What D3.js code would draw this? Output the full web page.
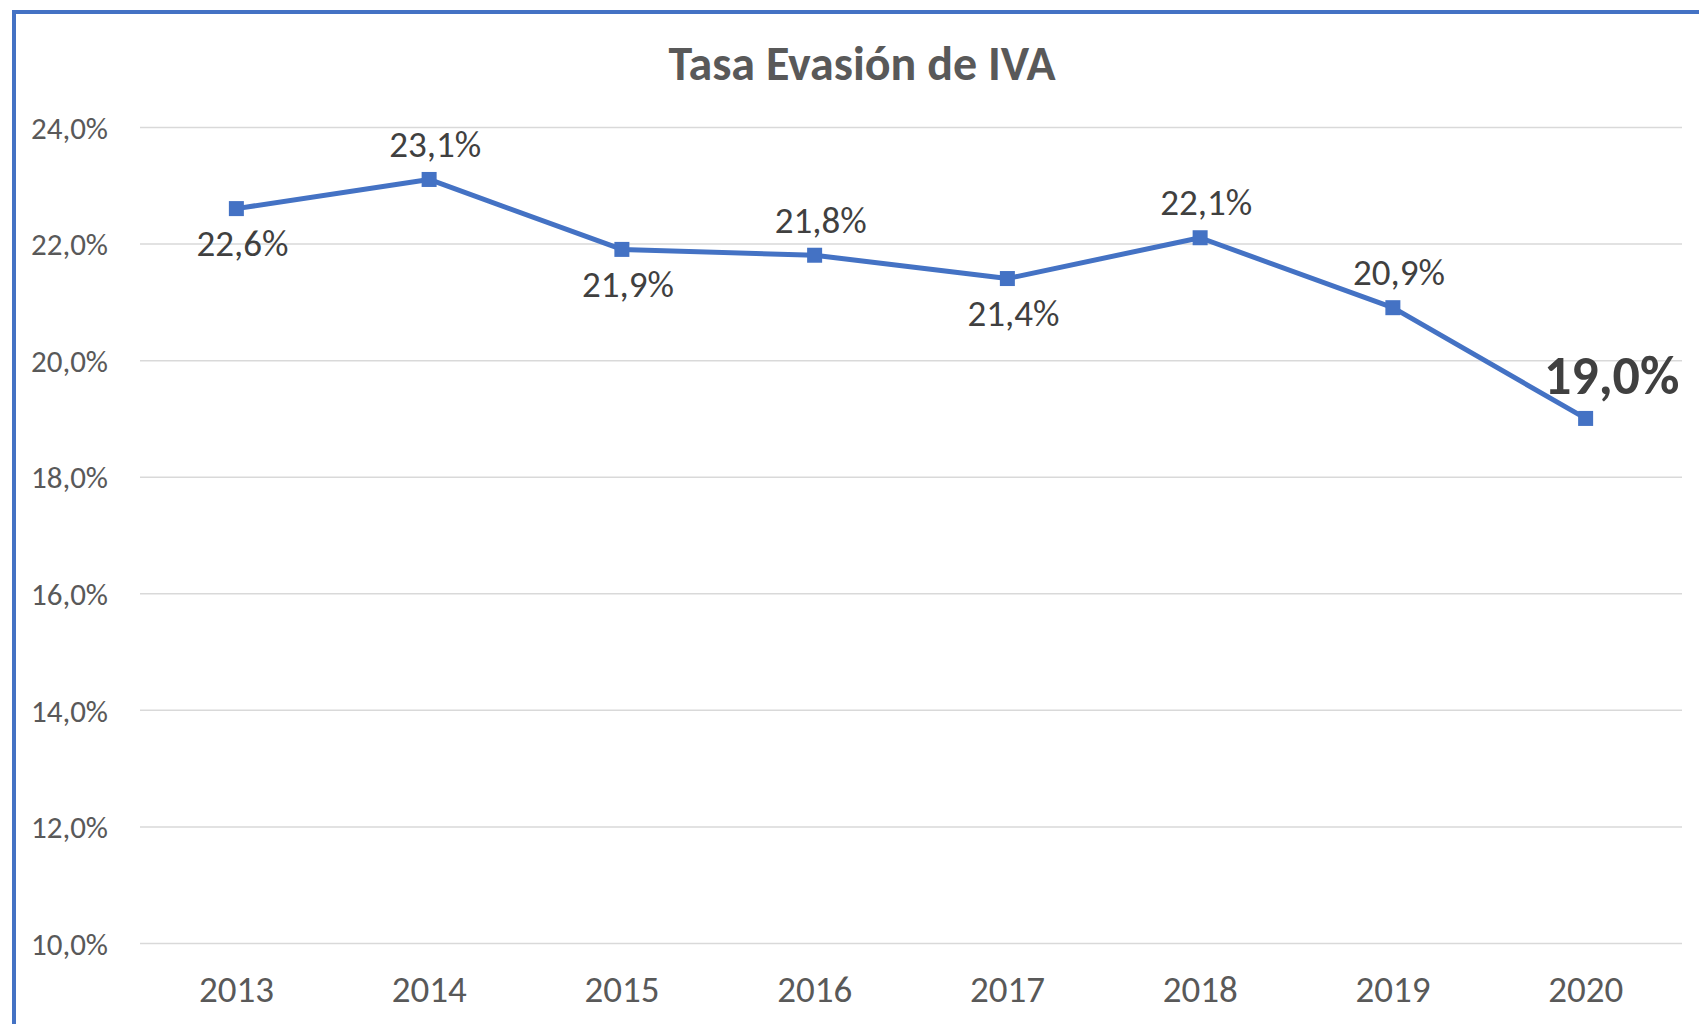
<!DOCTYPE html>
<meta charset="utf-8">
<style>
  body { margin: 0; background: #fff; }
  svg text { font-family: Carlito, Calibri, Lato, sans-serif; }
</style>
<body>
<svg width="1699" height="1024"></svg>

<script src="https://cdn.jsdelivr.net/npm/d3@7"></script>
<script>

// data
var years  = ["2013", "2014", "2015", "2016", "2017", "2018", "2019", "2020"];
var rates  = [22.6, 23.1, 21.9, 21.8, 21.4, 22.1, 20.9, 19.0];
var labelSide = ["below", "above", "below", "above", "below", "above", "above", "right"];
var yTicks = [10, 12, 14, 16, 18, 20, 22, 24];

var svg = d3.select("svg"),
    margin = {top: 127, right: 17, bottom: 81, left: 140},
    width  = +svg.attr("width") - margin.left - margin.right,
    height = +svg.attr("height") - margin.top - margin.bottom;

var blue = "#4472C4";
var fmt = function(v) { return d3.format(".1f")(v).replace(".", ",") + "%"; };

// chart frame (only top & left edges visible)
svg.append("rect")
    .attr("x", 14).attr("y", 12)
    .attr("width", 1800).attr("height", 1100)
    .attr("fill", "none")
    .attr("stroke", blue)
    .attr("stroke-width", 4);

// title
svg.append("text")
    .attr("x", 862).attr("y", 80)
    .attr("text-anchor", "middle")
    .attr("font-size", 48)
    .attr("font-weight", "bold")
    .attr("fill", "#595959")
    .text("Tasa Evasión de IVA");

var x = d3.scaleBand().domain(years).range([0, width]).padding(0);
var y = d3.scaleLinear().domain([10, 24]).range([height, 0]);

var g = svg.append("g")
    .attr("transform", "translate(" + margin.left + "," + margin.top + ")");

// gridlines + y labels
var yAxis = d3.axisLeft(y)
    .tickValues(yTicks)
    .tickSize(-width)
    .tickPadding(32)
    .tickFormat(fmt);

g.append("g")
    .attr("class", "y-axis")
    .call(yAxis)
    .call(function(a) {
        a.select(".domain").remove();
        a.selectAll(".tick line").attr("stroke", "#d9d9d9").attr("stroke-width", 1.5);
        a.selectAll(".tick text")
            .attr("font-size", 31)
            .attr("dy", "0.36em")
            .attr("fill", "#595959")
            .attr("font-family", "Carlito, Calibri, Lato, sans-serif");
    });

// x labels
var xAxis = d3.axisBottom(x).tickSize(0);
g.append("g")
    .attr("transform", "translate(0," + height + ")")
    .call(xAxis)
    .call(function(a) {
        a.select(".domain").remove();
        a.selectAll(".tick text")
            .attr("y", 46)
            .attr("dy", "0.36em")
            .attr("font-size", 37)
            .attr("fill", "#595959")
            .attr("font-family", "Carlito, Calibri, Lato, sans-serif");
    });

var pts = years.map(function(d, i) { return {year: d, value: rates[i], side: labelSide[i]}; });
var cx = function(d) { return x(d.year) + x.bandwidth() / 2; };

var line = d3.line()
    .x(cx)
    .y(function(d) { return y(d.value); });

g.append("path")
    .datum(pts)
    .attr("fill", "none")
    .attr("stroke", blue)
    .attr("stroke-width", 5)
    .attr("stroke-linejoin", "round")
    .attr("d", line);

g.selectAll(".marker")
    .data(pts)
  .enter().append("rect")
    .attr("class", "marker")
    .attr("x", function(d) { return cx(d) - 7.5; })
    .attr("y", function(d) { return y(d.value) - 7.5; })
    .attr("width", 15)
    .attr("height", 15)
    .attr("fill", blue);

// data labels
g.selectAll(".lbl")
    .data(pts)
  .enter().append("text")
    .attr("class", "lbl")
    .attr("text-anchor", "middle")
    .attr("dy", "0.36em")
    .attr("x", function(d) { return cx(d) + (d.side == "right" ? 26 : 6); })
    .attr("y", function(d) {
        if (d.side == "below") return y(d.value) + 34;
        if (d.side == "above") return y(d.value) - 36;
        return y(d.value) - 44;
    })
    .attr("font-size", function(d) { return d.side == "right" ? 54 : 37; })
    .attr("font-weight", function(d) { return d.side == "right" ? "bold" : "normal"; })
    .attr("fill", "#404040")
    .text(function(d) { return fmt(d.value); });

</script>
</body>
